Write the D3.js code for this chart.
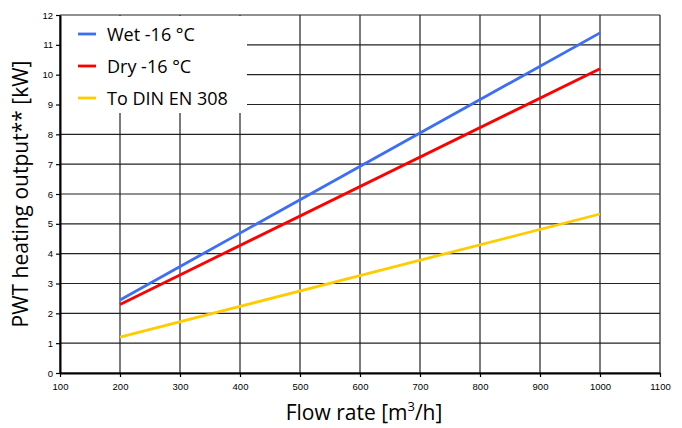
<!DOCTYPE html>
<html>
<head>
<meta charset="utf-8">
<script src="https://cdn.jsdelivr.net/npm/d3@7"></script>
<style>
  body { margin: 0; background: #fff; }
  svg { display: block; }
</style>
</head>
<body>
<div id="chart"></div>
<script>
// data
const flowRates = [200, 1000];
const wetValues = [2.45, 11.4];
const dryValues = [2.3, 10.2];
const dinValues = [1.2, 5.33];
const seriesNames = ['Wet -16 \u00b0C', 'Dry -16 \u00b0C', 'To DIN EN 308'];
const seriesColors = ['#3d6ef5', '#ff0000', '#ffcc00'];
const xTicks = d3.range(100, 1101, 100);
const yTicks = d3.range(0, 13, 1);

const width = 682, height = 428;
const margin = { left: 60, right: 22, top: 15, bottom: 55 };

const svg = d3.select('#chart').append('svg')
  .attr('width', width)
  .attr('height', height);

const x = d3.scaleLinear().domain([100, 1100]).range([margin.left, width - margin.right]);
const y = d3.scaleLinear().domain([0, 12]).range([height - margin.bottom, margin.top]);

// grid
const grid = svg.append('g').attr('stroke', '#222').attr('stroke-width', 1.2);
grid.selectAll('.vx').data(xTicks).enter().append('line')
  .attr('x1', d => x(d)).attr('x2', d => x(d))
  .attr('y1', y(0)).attr('y2', y(12));
grid.selectAll('.hy').data(yTicks).enter().append('line')
  .attr('x1', x(100)).attr('x2', x(1100))
  .attr('y1', d => y(d)).attr('y2', d => y(d));

// legend background hides the grid
svg.append('rect')
  .attr('x', x(100) + 1).attr('y', y(12) + 1)
  .attr('width', 186).attr('height', 97)
  .attr('fill', '#fff');

// axes
const xAxis = svg.append('g')
  .attr('transform', `translate(0,${y(0)})`)
  .call(d3.axisBottom(x).tickValues(xTicks).tickFormat(d3.format('d')).tickSize(4).tickSizeOuter(0));
const yAxis = svg.append('g')
  .attr('transform', `translate(${x(100)},0)`)
  .call(d3.axisLeft(y).tickValues(yTicks).tickFormat(d3.format('d')).tickSize(4).tickSizeOuter(0));

[xAxis, yAxis].forEach(a => {
  a.select('.domain').attr('stroke', '#000').attr('stroke-width', 2);
  a.selectAll('.tick line').attr('stroke', '#000').attr('stroke-width', 1.2);
  a.selectAll('text')
    .attr('fill', '#000')
    .style('font-family', 'Liberation Sans, Arial, sans-serif')
    .style('font-size', '9.5px');
});
xAxis.selectAll('text').attr('dy', '1.1em');

// lines
const allSeries = [wetValues, dryValues, dinValues];
const line = d3.line()
  .x((d, i) => x(flowRates[i]))
  .y(d => y(d));

svg.append('g').selectAll('path')
  .data(allSeries)
  .enter()
  .append('path')
  .attr('d', line)
  .attr('fill', 'none')
  .attr('stroke', (d, i) => seriesColors[i])
  .attr('stroke-width', 2.8);

// legend
const legend = svg.append('g').attr('transform', `translate(${x(100) + 18},${y(12) + 19})`);
seriesNames.forEach((name, i) => {
  const g = legend.append('g').attr('transform', `translate(0,${i * 32})`);
  g.append('line')
    .attr('x1', 0).attr('x2', 18)
    .attr('y1', 0).attr('y2', 0)
    .attr('stroke', seriesColors[i])
    .attr('stroke-width', 2.8);
  g.append('text')
    .attr('x', 29).attr('y', 6.5)
    .attr('fill', '#000')
    .style('font-family', 'Open Sans, Noto Sans, sans-serif')
    .style('font-size', '18px')
    .text(name);
});

// axis titles
const titleFont = 'Open Sans, Noto Sans, sans-serif';
const xTitle = svg.append('text')
  .attr('x', 364).attr('y', 420)
  .attr('text-anchor', 'middle')
  .attr('fill', '#000')
  .style('font-family', titleFont)
  .style('font-size', '21px');
xTitle.append('tspan').text('Flow rate [m');
xTitle.append('tspan').attr('dy', -9).style('font-size', '13px').text('3');
xTitle.append('tspan').attr('dy', 9).text('/h]');

svg.append('text')
  .attr('transform', `translate(28,${(y(0) + y(12)) / 2}) rotate(-90)`)
  .attr('text-anchor', 'middle')
  .attr('fill', '#000')
  .style('font-family', titleFont)
  .style('font-size', '21px')
  .text('PWT heating output** [kW]');
</script>
</body>
</html>
